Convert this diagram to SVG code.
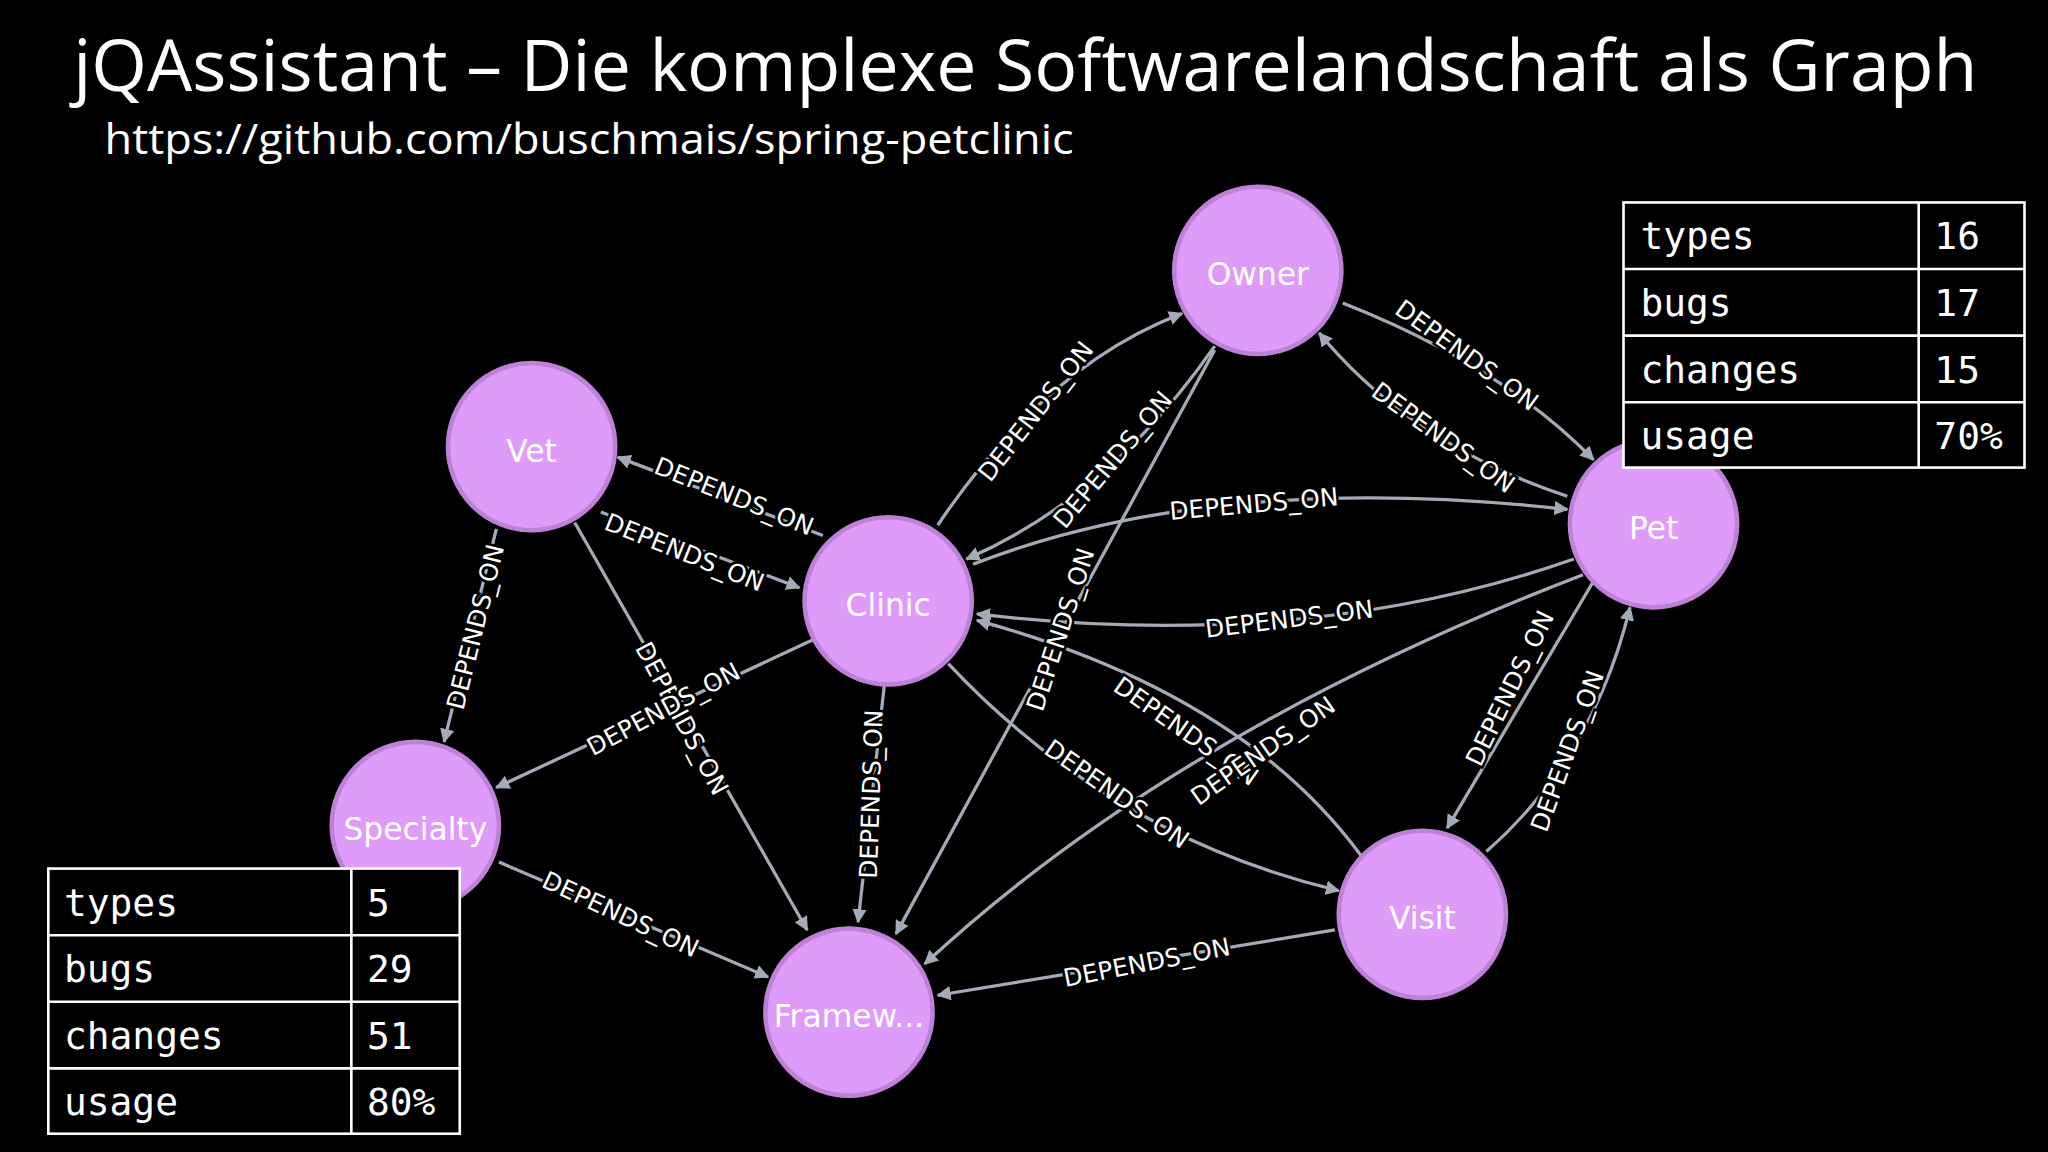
<svg xmlns="http://www.w3.org/2000/svg" width="2048" height="1152" viewBox="0 0 2048 1152">
<style>
.n circle{fill:#df9bf9;stroke:#bf80d8;stroke-width:3.5}
.n text{font-family:"DejaVu Sans",sans-serif;font-size:24px;fill:#fff;text-anchor:middle;dominant-baseline:central}
.e path{fill:none;stroke:#a5abb6;stroke-width:2.5;marker-end:url(#a)}
.l{font-family:"DejaVu Sans",sans-serif;font-size:19px;fill:#fff;text-anchor:middle;dominant-baseline:central;stroke:#000;stroke-width:4;paint-order:stroke}
.t rect{fill:#000;stroke:#fff;stroke-width:2}
.t line{stroke:#fff;stroke-width:2}
.t text{font-family:"DejaVu Sans Mono",monospace;font-size:29px;fill:#fff;dominant-baseline:central}
</style>
<defs><marker id="a" viewBox="0 0 10 10" refX="9" refY="5" markerWidth="11" markerHeight="11" orient="auto" markerUnits="userSpaceOnUse"><path d="M0,0L10,5L0,10z" fill="#a5abb6"/></marker></defs>
<rect width="2048" height="1152" fill="#000"/>
<g transform="scale(1.30612)">
<text x="785" y="70" text-anchor="middle" font-family="Open Sans,sans-serif" font-size="54" fill="#fff" textLength="1458" lengthAdjust="spacingAndGlyphs">jQAssistant – Die komplexe Softwarelandschaft als Graph</text>
<text x="80" y="118" font-family="Open Sans,sans-serif" font-size="32" fill="#fff" textLength="742" lengthAdjust="spacingAndGlyphs">https://github.com/buschmais/spring-petclinic</text>
<g id="edges" class="e">
<path d="M718,402 Q800,280 905,240"/>
<path d="M930,265 Q850,380 740,428"/>
<path d="M930,268 L686,715"/>
<path d="M1028,232 Q1150,280 1220,352"/>
<path d="M1200,380 Q1080,340 1010,255"/>
<path d="M745,432 Q930,360 1200,390"/>
<path d="M1205,428 Q1000,500 748,470"/>
<path d="M460,392 L612,450"/>
<path d="M630,410 L473,350"/>
<path d="M380,405 L340,568"/>
<path d="M440,400 L618,712"/>
<path d="M622,490 L380,603"/>
<path d="M677,525 L657,706"/>
<path d="M726,508 Q850,640 1025,682"/>
<path d="M1042,655 Q950,530 748,475"/>
<path d="M1212,440 Q900,560 708,738"/>
<path d="M1220,445 L1108,634"/>
<path d="M1138,652 Q1220,580 1248,465"/>
<path d="M382,660 L588,748"/>
<path d="M1022,712 L718,762"/>
<text class="l" transform="translate(793,315) rotate(-52)">DEPENDS_ON</text>
<text class="l" transform="translate(852,352) rotate(-50)">DEPENDS_ON</text>
<text class="l" transform="translate(812,482) rotate(-72)">DEPENDS_ON</text>
<text class="l" transform="translate(1123,272) rotate(36)">DEPENDS_ON</text>
<text class="l" transform="translate(1105,335) rotate(36)">DEPENDS_ON</text>
<text class="l" transform="translate(960,386) rotate(-5)">DEPENDS_ON</text>
<text class="l" transform="translate(987,474) rotate(-7)">DEPENDS_ON</text>
<text class="l" transform="translate(524,423) rotate(22)">DEPENDS_ON</text>
<text class="l" transform="translate(562,380) rotate(22)">DEPENDS_ON</text>
<text class="l" transform="translate(364,480) rotate(-76)">DEPENDS_ON</text>
<text class="l" transform="translate(522,550) rotate(62)">DEPENDS_ON</text>
<text class="l" transform="translate(508,543) rotate(-28)">DEPENDS_ON</text>
<text class="l" transform="translate(667,608) rotate(-88)">DEPENDS_ON</text>
<text class="l" transform="translate(855,608) rotate(35)">DEPENDS_ON</text>
<text class="l" transform="translate(908,560) rotate(35)">DEPENDS_ON</text>
<text class="l" transform="translate(967,575) rotate(-35)">DEPENDS_ON</text>
<text class="l" transform="translate(1156,527) rotate(-64)">DEPENDS_ON</text>
<text class="l" transform="translate(1200,575) rotate(-70)">DEPENDS_ON</text>
<text class="l" transform="translate(475,700) rotate(25)">DEPENDS_ON</text>
<text class="l" transform="translate(878,737) rotate(-11)">DEPENDS_ON</text>
</g>
<g id="owner" class="n"><circle cx="963" cy="207" r="64"/><text x="963" y="210">Owner</text></g>
<g id="vet" class="n"><circle cx="407" cy="342" r="64"/><text x="407" y="345">Vet</text></g>
<g id="clinic" class="n"><circle cx="680" cy="460" r="64"/><text x="680" y="463">Clinic</text></g>
<g id="pet" class="n"><circle cx="1266" cy="401" r="64"/><text x="1266" y="404">Pet</text></g>
<g id="specialty" class="n"><circle cx="318" cy="632" r="64"/><text x="318" y="635">Specialty</text></g>
<g id="framework" class="n"><circle cx="650" cy="775" r="64"/><text x="650" y="778">Framew...</text></g>
<g id="visit" class="n"><circle cx="1089" cy="700" r="64"/><text x="1089" y="703">Visit</text></g>
<g id="table1" class="t">
<rect x="1243" y="155" width="307" height="203"/>
<line x1="1469" y1="155" x2="1469" y2="358"/>
<line x1="1243" y1="206" x2="1550" y2="206"/><line x1="1243" y1="257" x2="1550" y2="257"/><line x1="1243" y1="308" x2="1550" y2="308"/>
<text x="1256" y="181">types</text><text x="1481" y="181">16</text>
<text x="1256" y="232">bugs</text><text x="1481" y="232">17</text>
<text x="1256" y="283">changes</text><text x="1481" y="283">15</text>
<text x="1256" y="334">usage</text><text x="1481" y="334">70%</text>
</g>
<g id="table2" class="t">
<rect x="37" y="665" width="315" height="203"/>
<line x1="269" y1="665" x2="269" y2="868"/>
<line x1="37" y1="716" x2="352" y2="716"/><line x1="37" y1="767" x2="352" y2="767"/><line x1="37" y1="818" x2="352" y2="818"/>
<text x="49" y="691">types</text><text x="281" y="691">5</text>
<text x="49" y="742">bugs</text><text x="281" y="742">29</text>
<text x="49" y="793">changes</text><text x="281" y="793">51</text>
<text x="49" y="844">usage</text><text x="281" y="844">80%</text>
</g>
</g>
</svg>
